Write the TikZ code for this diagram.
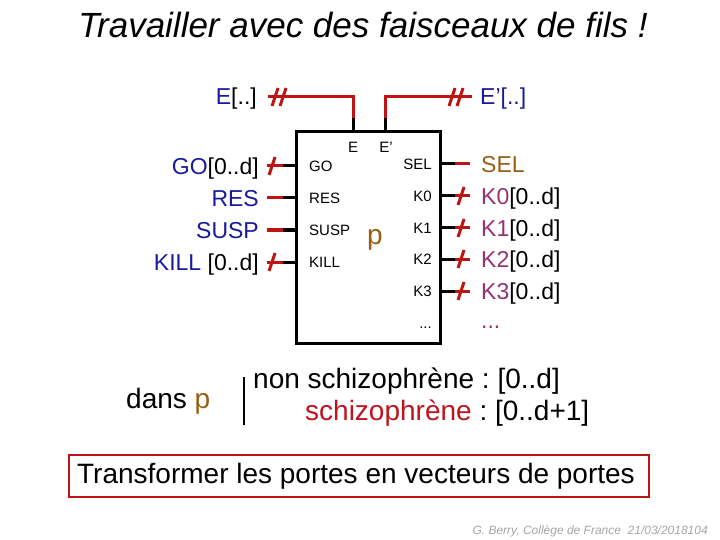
\documentclass[tikz,border=0pt]{standalone}
\usepackage{fontspec}
\setmainfont{Liberation Sans}
\usetikzlibrary{calc}
\definecolor{lblue}{RGB}{25,25,155}
\definecolor{wred}{RGB}{190,20,20}
\definecolor{lbrown}{RGB}{150,95,20}
\definecolor{lpurple}{RGB}{150,50,110}
\definecolor{sred}{RGB}{190,20,30}
\definecolor{fgrey}{RGB}{165,165,165}
\newcommand\fs[1]{\fontsize{#1}{#1}\selectfont}
\newcommand\busmark[1]{\draw[redw] ($(#1)+(-3,9)$) -- ($(#1)+(3,-9)$);}
\frenchspacing
\begin{document}
\begin{tikzpicture}[x=1pt,y=-1pt,
  redw/.style={draw=wred,line width=3pt},
  blkw/.style={draw=black,line width=3pt},
  big/.style={font=\fs{23}, inner sep=0pt},
  small/.style={font=\fs{15}, inner sep=0pt},
  txt/.style={font=\fs{28}, inner sep=0pt}]
\useasboundingbox (0,0) rectangle (720,540);
% title
\node[font=\fs{35}\itshape, inner sep=0pt] (title) at (363,25) {Travailler avec des faisceaux de fils !};
% box
\node[draw, line width=3pt, minimum width=144pt, minimum height=211pt, inner sep=0pt] (P) at (368,237.5) {};
\node[font=\fs{28}, text=lbrown, inner sep=0pt] (p) at (375,240) {p};
% top ports
\node[small, anchor=base] (Ein) at (353,153) {E};
\node[small, anchor=base] (Epin) at (386,153) {E'};
\coordinate (E1) at (353,118);
\coordinate (E2) at (353,97);
\coordinate (E3) at (268,97);
\coordinate (F1) at (385,118);
\coordinate (F2) at (385,97);
\coordinate (F3) at (472,97);
\draw[blkw] (P.north -| E1) -- (E1);
\draw[redw] (E1) -- (E2) -- (E3);
\draw[blkw] (P.north -| F1) -- (F1);
\draw[redw] (F1) -- (F2) -- (F3);
\busmark{275,97}\busmark{283,97}
\busmark{452,97}\busmark{460,97}
\node[big, anchor=base east] (Elab) at (257,105) {\textcolor{lblue}{E}[..]};
\node[big, anchor=base west, text=lblue] (Eplab) at (480,105) {E’[..]};
% left ports
\foreach \y/\n/\lab/\inl in {166/go/{\textcolor{lblue}{GO}[0..d]}/GO, 198/res/{\textcolor{lblue}{RES}}/RES, 230/susp/{\textcolor{lblue}{SUSP}}/SUSP, 262/kill/{\textcolor{lblue}{KILL} [0..d]}/KILL}{
  \node[small, anchor=base west] (in\n) at (309,\y+5.5) {\inl};
  \node[big, anchor=base east] (l\n) at (259,\y+8.5) {\lab};
  \coordinate (a\n) at (283,\y);
  \coordinate (b\n) at (267,\y);
  \draw[blkw] (P.west |- a\n) -- (a\n);
  \draw[redw] (a\n) -- (b\n);
}
\busmark{272,166}\busmark{272,262}
% right ports
\foreach \y/\n/\inl in {164/sel/SEL, 196/k0/K0, 228/k1/K1, 259/k2/K2, 291/k3/K3}{
  \node[small, anchor=base east] (o\n) at (432,\y+5.5) {\inl};
  \coordinate (c\n) at (455,\y);
  \coordinate (d\n) at (470,\y);
  \draw[blkw] (P.east |- c\n) -- (c\n);
  \draw[redw] (c\n) -- (d\n);
}
\node[small, anchor=base east] (odots) at (432,328) {...};
\foreach \y in {196,228,259,291}{\busmark{461,\y}}
\node[big, anchor=base west, text=lbrown] (rsel) at (481,172.5) {SEL};
\node[big, anchor=base west] (rk0) at (481,204.5) {\textcolor{lpurple}{K0}[0..d]};
\node[big, anchor=base west] (rk1) at (481,236.5) {\textcolor{lpurple}{K1}[0..d]};
\node[big, anchor=base west] (rk2) at (481,267.5) {\textcolor{lpurple}{K2}[0..d]};
\node[big, anchor=base west] (rk3) at (481,299.5) {\textcolor{lpurple}{K3}[0..d]};
\node[big, anchor=base west, text=lpurple] (rdots) at (481,328) {...};
% bottom text
\node[txt, anchor=base west] (dans) at (126,408) {dans \textcolor{lbrown}{p}};
\draw[line width=2pt] (244,377) -- (244,425);
\node[txt, anchor=base west] (ns) at (253,388) {non schizophrène : [0..d]};
\node[txt, anchor=base west] (s) at (305,420) {\textcolor{sred}{schizophrène} : [0..d+1]};
\node[draw=wred, line width=2.5pt, minimum width=580pt, minimum height=42pt, inner sep=0pt] (tbox) at (359,476) {};
\node[font=\fs{28}, inner sep=0pt] (ttext) at (356,476) {Transformer les portes en vecteurs de portes};
\node[font=\fs{12}\itshape, text=fgrey, anchor=base east, inner sep=0pt] (foot) at (708,534) {G. Berry, Collège de France\ \ 21/03/2018104};
\end{tikzpicture}
\end{document}
